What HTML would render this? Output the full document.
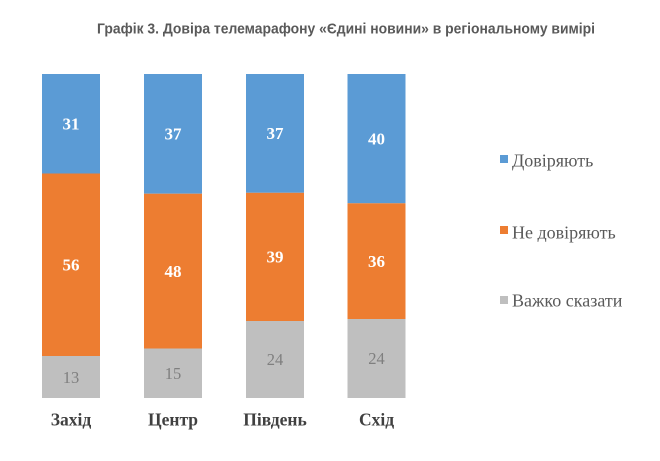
<!DOCTYPE html>
<html>
<head>
<meta charset="utf-8">
<style>
  html, body { margin:0; padding:0; background:#ffffff; }
  body { width:660px; height:461px; overflow:hidden; }
  svg { display:block; }
</style>
</head>
<body>
<svg width="660" height="461" viewBox="0 0 660 461" xmlns="http://www.w3.org/2000/svg">
  <rect x="0" y="0" width="660" height="461" fill="#ffffff"/>
  <text x="346" y="33.3" text-anchor="middle" font-family="Liberation Sans, Arial, sans-serif" font-weight="bold" font-size="14.5" fill="#595959" textLength="498" lengthAdjust="spacingAndGlyphs">Графік 3. Довіра телемарафону «Єдині новини» в регіональному вимірі</text>

  <!-- Bar 1: Захід -->
  <rect x="42" y="74" width="58" height="99.5" fill="#5B9BD5"/>
  <rect x="42" y="173.5" width="58" height="182.5" fill="#ED7D31"/>
  <rect x="42" y="356" width="58" height="42" fill="#BFBFBF"/>
  <!-- Bar 2: Центр -->
  <rect x="144" y="74" width="58" height="119.7" fill="#5B9BD5"/>
  <rect x="144" y="193.7" width="58" height="154.8" fill="#ED7D31"/>
  <rect x="144" y="348.5" width="58" height="49.5" fill="#BFBFBF"/>
  <!-- Bar 3: Південь -->
  <rect x="246" y="74" width="58" height="118.8" fill="#5B9BD5"/>
  <rect x="246" y="192.8" width="58" height="128.2" fill="#ED7D31"/>
  <rect x="246" y="321" width="58" height="77" fill="#BFBFBF"/>
  <!-- Bar 4: Схід -->
  <rect x="347.5" y="74" width="58" height="129.3" fill="#5B9BD5"/>
  <rect x="347.5" y="203.3" width="58" height="115.7" fill="#ED7D31"/>
  <rect x="347.5" y="319" width="58" height="79" fill="#BFBFBF"/>

  <g font-family="Liberation Serif, 'Times New Roman', serif" text-anchor="middle">
    <g font-weight="bold" fill="#ffffff" font-size="17">
      <text x="71" y="129.6">31</text>
      <text x="71" y="270.6">56</text>
      <text x="173" y="139.7">37</text>
      <text x="173" y="276.9">48</text>
      <text x="275" y="139.2">37</text>
      <text x="275" y="262.7">39</text>
      <text x="376.5" y="144.5">40</text>
      <text x="376.5" y="267">36</text>
    </g>
    <g fill="#7F7F7F" font-size="16.5">
      <text x="71" y="382.8">13</text>
      <text x="173" y="379">15</text>
      <text x="275" y="365.2">24</text>
      <text x="376.5" y="364.2">24</text>
    </g>
  </g>

  <g font-family="Liberation Serif, 'Times New Roman', serif" font-weight="bold" font-size="17.5" fill="#404040" text-anchor="middle">
    <text x="71" y="425.7">Захід</text>
    <text x="173" y="425.7">Центр</text>
    <text x="275" y="425.7">Південь</text>
    <text x="376.5" y="425.7">Схід</text>
  </g>

  <g font-family="Liberation Serif, 'Times New Roman', serif" font-size="18" fill="#595959">
    <rect x="500" y="155" width="8" height="8" fill="#5B9BD5"/>
    <text x="512" y="166.5">Довіряють</text>
    <rect x="500" y="226" width="8" height="8" fill="#ED7D31"/>
    <text x="512" y="238.3">Не довіряють</text>
    <rect x="500" y="296" width="8" height="8" fill="#BFBFBF"/>
    <text x="512" y="306.5">Важко сказати</text>
  </g>
</svg>
</body>
</html>
